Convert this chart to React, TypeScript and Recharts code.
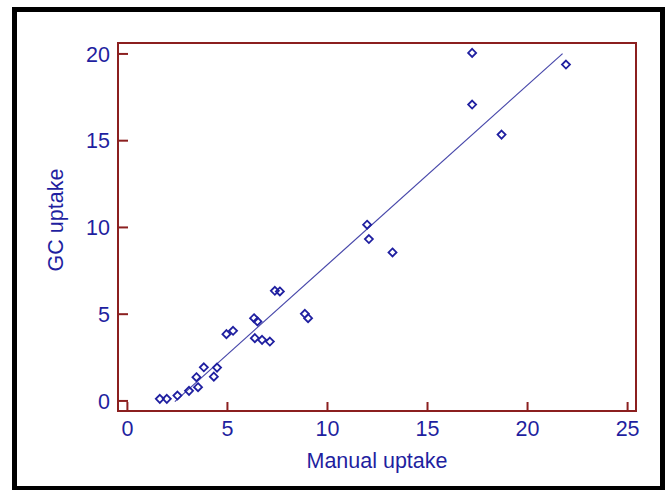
import { ScatterChart, Scatter, XAxis, YAxis, ReferenceLine, ReferenceArea } from "recharts";

const manualUptake = [
  1.62, 1.97, 2.5, 3.08, 3.53, 3.45, 3.82, 4.32, 4.48, 4.95, 5.28, 6.33, 6.5, 6.37,
  6.73, 7.12, 7.37, 7.62, 8.87, 9.03, 11.98, 12.07, 13.25, 17.23, 17.23, 18.7, 21.92,
];
const gcUptake = [
  0.12, 0.12, 0.31, 0.58, 0.79, 1.37, 1.94, 1.4, 1.92, 3.85, 4.04, 4.77, 4.58, 3.62,
  3.52, 3.42, 6.35, 6.31, 5.02, 4.77, 10.16, 9.33, 8.56, 20.06, 17.08, 15.35, 19.39,
];
const fitX = [2.37, 21.75];
const fitY = [-0.04, 20.02];
const xTicks = [0, 5, 10, 15, 20, 25];
const yTicks = [0, 5, 10, 15, 20];
const xDomain = [-0.47, 25.42];
const yDomain = [-0.58, 20.63];

const points = manualUptake.map((x, i) => ({ x, y: gcUptake[i] }));

const NAVY = "#1f1fa0";
const BOX = "#8b1f1f";
const FONT = "'Liberation Sans', Arial, sans-serif";
const FS = 21.5;

const Diamond = (props: any) => {
  const { cx, cy } = props;
  if (cx == null || cy == null) return null;
  const r = 4;
  return (
    <path
      d={`M${cx},${cy - r}L${cx + r},${cy}L${cx},${cy + r}L${cx - r},${cy}Z`}
      fill="none"
      stroke={NAVY}
      strokeWidth={1.8}
    />
  );
};

const YTitle = (props: any) => {
  const vb = props.viewBox || {};
  const x = vb.x - 2;
  const y = 220;
  return (
    <text
      x={x}
      y={y}
      transform={`rotate(-90 ${x} ${y})`}
      textAnchor="middle"
      dominantBaseline="central"
      fill={NAVY}
      fontSize={FS}
      fontFamily={FONT}
    >
      GC uptake
    </text>
  );
};

const XTitle = (props: any) => {
  const vb = props.viewBox || {};
  return (
    <text
      x={vb.x + vb.width / 2}
      y={461}
      textAnchor="middle"
      dominantBaseline="central"
      fill={NAVY}
      fontSize={FS}
      fontFamily={FONT}
    >
      Manual uptake
    </text>
  );
};

export default function App() {
  return (
    <div style={{ position: "absolute", left: 0, top: 0, width: 669, height: 490, background: "#fff" }}>
      <div
        style={{
          position: "absolute",
          left: 12,
          top: 7,
          width: 653,
          height: 484,
          border: "5px solid #000",
          boxSizing: "border-box",
        }}
      />
      <div style={{ position: "absolute", left: 0, top: 0 }}>
        <ScatterChart width={669} height={490} margin={{ top: 43, right: 33, bottom: 49, left: 58 }}>
          <XAxis
            type="number"
            dataKey="x"
            domain={xDomain}
            ticks={xTicks}
            allowDataOverflow
            height={30}
            tickSize={-9}
            tickMargin={19}
            axisLine={{ stroke: BOX, strokeWidth: 2 }}
            tickLine={{ stroke: BOX, strokeWidth: 2 }}
            tick={{ fill: NAVY, fontSize: FS, fontFamily: FONT }}
            label={<XTitle />}
          />
          <YAxis
            type="number"
            dataKey="y"
            domain={yDomain}
            ticks={yTicks}
            allowDataOverflow
            width={60}
            tickSize={-10}
            tickMargin={18}
            axisLine={{ stroke: BOX, strokeWidth: 2 }}
            tickLine={{ stroke: BOX, strokeWidth: 2 }}
            tick={{ fill: NAVY, fontSize: FS, fontFamily: FONT }}
            label={<YTitle />}
          />
          <ReferenceArea
            x1={xDomain[0]}
            x2={xDomain[1]}
            y1={yDomain[0]}
            y2={yDomain[1]}
            fill="none"
            fillOpacity={0}
            stroke={BOX}
            strokeWidth={2}
            ifOverflow="visible"
          />
          <ReferenceLine
            segment={[
              { x: fitX[0], y: fitY[0] },
              { x: fitX[1], y: fitY[1] },
            ]}
            stroke="#4848aa"
            strokeWidth={1.2}
            ifOverflow="visible"
          />
          <Scatter data={points} shape={Diamond} isAnimationActive={false} />
        </ScatterChart>
      </div>
    </div>
  );
}
